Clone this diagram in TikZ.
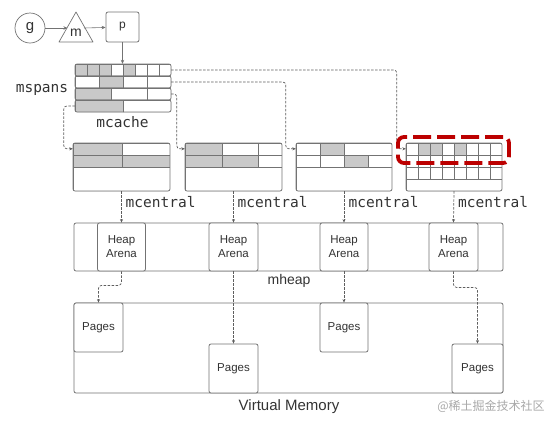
\documentclass[tikz,border=0pt]{standalone}
\usepackage{fontspec}
\setmainfont{Liberation Sans}
\newfontfamily\monofont{DejaVu Sans Mono}
\newfontfamily\cjkfont{Noto Sans CJK SC}
\usetikzlibrary{arrows.meta,calc}
\definecolor{ln}{HTML}{737373}
\definecolor{cn}{HTML}{5E5E5E}
\definecolor{cg}{HTML}{C9C9C9}
\definecolor{txt}{HTML}{333333}
\definecolor{redd}{HTML}{BC0000}
\definecolor{wm}{HTML}{A8A8A8}
\newcommand{\cellgroup}[5]{%
  \begin{scope}
    \clip[rounded corners=2pt] (#1,#2) rectangle (#3,#4);
    \foreach \a/\b/\c/\d/\f in {#5} {\filldraw[cellln, fill=\f] (\a,\b) rectangle (\c,\d);}
  \end{scope}
  \draw[cellln, rounded corners=2pt] (#1,#2) rectangle (#3,#4);}
\begin{document}
\begin{tikzpicture}[x=1pt,y=-1pt,
  box/.style={draw=ln, line width=0.8pt, rounded corners=2pt, fill=white, inner sep=0pt},
  cellln/.style={draw=ln, line width=0.8pt},
  conn/.style={draw=cn, line width=0.7pt, dash pattern=on 2.5pt off 1.5pt, rounded corners=3pt, -{Stealth[length=3.5pt,width=3pt]}},
  solidarr/.style={draw=ln, line width=0.6pt, -{Stealth[length=4pt,width=3.5pt]}},
  lbl/.style={text=txt, font=\fontsize{11.5}{14}\selectfont, align=center},
  mono/.style={text=txt, font=\monofont\fontsize{14.5}{16}\selectfont, inner sep=0pt},
  slot/.style={inner sep=0pt, minimum height=12pt}
]
\useasboundingbox (0,0) rectangle (558,424);

% g, m, p
\node[draw=ln, line width=0.7pt, circle, minimum size=30pt, inner sep=0pt, text=txt, font=\fontsize{15}{16}\selectfont] (g) at (30,28) {g};
\draw[draw=ln, line width=0.7pt, line join=round] (76,12) -- (93,42) -- (59,42) -- cycle;
\node[text=txt, font=\fontsize{14}{16}\selectfont, inner sep=0pt] (m) at (76,33) {m};
\coordinate (mW) at (67.5,28);
\coordinate (mE) at (84,28);
\node[box, minimum width=33pt, minimum height=30pt, text=txt, font=\fontsize{12}{14}\selectfont] (p) at (122.5,27) {p};
\draw[solidarr] (g) -- (mW);
\draw[solidarr] (mE) -- (p);

% mcache rows
\node[slot, minimum width=96pt] (mc1) at (123,70) {};
\node[slot, minimum width=96pt] (mc2) at (123,82) {};
\node[slot, minimum width=96pt] (mc3) at (123,94) {};
\node[slot, minimum width=96pt] (mc4) at (123,106) {};
\cellgroup{75}{64}{171}{76}{75/64/87/76/cg, 87/64/99/76/cg, 99/64/111/76/cg, 111/64/123/76/white, 123/64/135/76/cg, 135/64/147/76/white, 147/64/159/76/white, 159/64/171/76/white}
\cellgroup{75}{76}{171}{88}{75/76/99/88/white, 99/76/123/88/cg, 123/76/147/88/white, 147/76/171/88/white}
\cellgroup{75}{88}{171}{100}{75/88/111/100/cg, 111/88/147/100/white, 147/88/171/100/white}
\cellgroup{75}{100}{171}{112}{75/100/123/112/cg, 123/100/171/112/white}
\draw[solidarr] (p.south) -- (p.south |- mc1.north);
\node[mono] (mspans) at (42,90) {mspans};
\node[mono] (mcache) at (122.5,122) {mcache};

% mcentral boxes
\node[inner sep=0pt, minimum width=97pt, minimum height=48pt] (c1) at (121.5,167) {};
\node[inner sep=0pt, minimum width=97pt, minimum height=48pt] (c2) at (233.5,167) {};
\node[inner sep=0pt, minimum width=96pt, minimum height=48pt] (c3) at (344,167) {};
\node[inner sep=0pt, minimum width=96pt, minimum height=48pt] (c4) at (454,167) {};
\cellgroup{73}{143}{170}{191}{73/143/122/155/cg, 122/143/170/155/white, 73/155/122/167/cg, 122/155/170/167/cg, 73/167/170/191/white}
\cellgroup{185}{143}{282}{191}{185/143/222/155/cg, 222/143/258/155/white, 258/143/282/155/white, 185/155/222/167/cg, 222/155/258/167/cg, 258/155/282/167/white, 185/167/282/191/white}
\cellgroup{296}{143}{392}{191}{296/143/320/155/white, 320/143/344/155/cg, 344/143/392/155/white, 296/155/320/167/white, 320/155/344/167/white, 344/155/368/167/cg, 368/155/392/167/white, 296/167/392/191/white}
\begin{scope}
  \clip[rounded corners=2pt] (406,143) rectangle (502,191);
  \fill[cg] (418,143) rectangle (442,155);
  \fill[cg] (454,143) rectangle (466,155);
  \foreach \r in {0,1,2}{\foreach \k in {0,...,7}{\draw[cellln] ({406+12*\k},{143+12*\r}) rectangle ++(12,12);}}
  \draw[cellln] (406,179) rectangle (502,191);
\end{scope}
\draw[cellln, rounded corners=2pt] (406,143) rectangle (502,191);

% mcache -> mcentral connectors
\draw[conn] (mc1.east) -| ([xshift=-9pt,yshift=-6pt]c4.north west) -- ([yshift=-6pt]c4.north west);
\draw[conn] (mc2.east) -| ([xshift=-10pt,yshift=-6pt]c3.north west) -- ([yshift=-6pt]c3.north west);
\draw[conn] (mc3.east) -| ([xshift=-8pt,yshift=-6pt]c2.north west) -- ([yshift=-6pt]c2.north west);
\draw[conn] (mc4.west) -| ([xshift=-9pt,yshift=-6pt]c1.north west) -- ([yshift=-6pt]c1.north west);

% highlight
\node[draw=redd, line width=3.8pt, dash pattern=on 18pt off 6pt, rounded corners=6pt, minimum width=111pt, minimum height=26pt, inner sep=0pt] (sel) at (453.5,150) {};

% mcentral labels
\node[mono, anchor=west] (l1) at (125.5,202) {mcentral};
\node[mono, anchor=west] (l2) at (237.5,202) {mcentral};
\node[mono, anchor=west] (l3) at (348.5,202) {mcentral};
\node[mono, anchor=west] (l4) at (458,202) {mcentral};

% mheap
\node[box, minimum width=429pt, minimum height=48pt] (mheap) at (288.5,247) {};
\node[box, minimum width=48pt, minimum height=48pt, lbl] (h1) at (121.5,247) {Heap\\Arena};
\node[box, minimum width=49pt, minimum height=48pt, lbl] (h2) at (233.5,247) {Heap\\Arena};
\node[box, minimum width=48pt, minimum height=48pt, lbl] (h3) at (344,247) {Heap\\Arena};
\node[box, minimum width=49pt, minimum height=48pt, lbl] (h4) at (453.5,247) {Heap\\Arena};
\node[text=txt, font=\fontsize{14}{16}\selectfont] (mheaplbl) at (289,281) {mheap};

\draw[conn] (c1.south) -- (h1.north);
\draw[conn] (c2.south) -- (h2.north);
\draw[conn] (c3.south) -- (h3.north);
\draw[conn] (c4.south) -- (h4.north);

% virtual memory
\node[box, minimum width=429pt, minimum height=90pt] (vm) at (288.5,348) {};
\node[box, minimum width=49pt, minimum height=49pt, lbl] (p1) at (98.5,327.5) {Pages};
\node[box, minimum width=49pt, minimum height=49pt, lbl] (p2) at (233.5,368.5) {Pages};
\node[box, minimum width=48pt, minimum height=49pt, lbl] (p3) at (344,327.5) {Pages};
\node[box, minimum width=51pt, minimum height=49pt, lbl] (p4) at (477.5,368.5) {Pages};
\node[text=txt, font=\fontsize{15}{17}\selectfont] (vmlbl) at (289,407) {Virtual Memory};
\node[text=wm, font=\cjkfont\fontsize{12}{14}\selectfont] (wmk) at (491,406) {@稀土掘金技术社区};

\draw[conn] (h1.south) -- ++(0,14) -| (p1.north);
\draw[conn] (h2.south) -- (p2.north);
\draw[conn] (h3.south) -- (p3.north);
\draw[conn] (h4.south) -- ++(0,16) -| (p4.north);
\end{tikzpicture}
\end{document}
